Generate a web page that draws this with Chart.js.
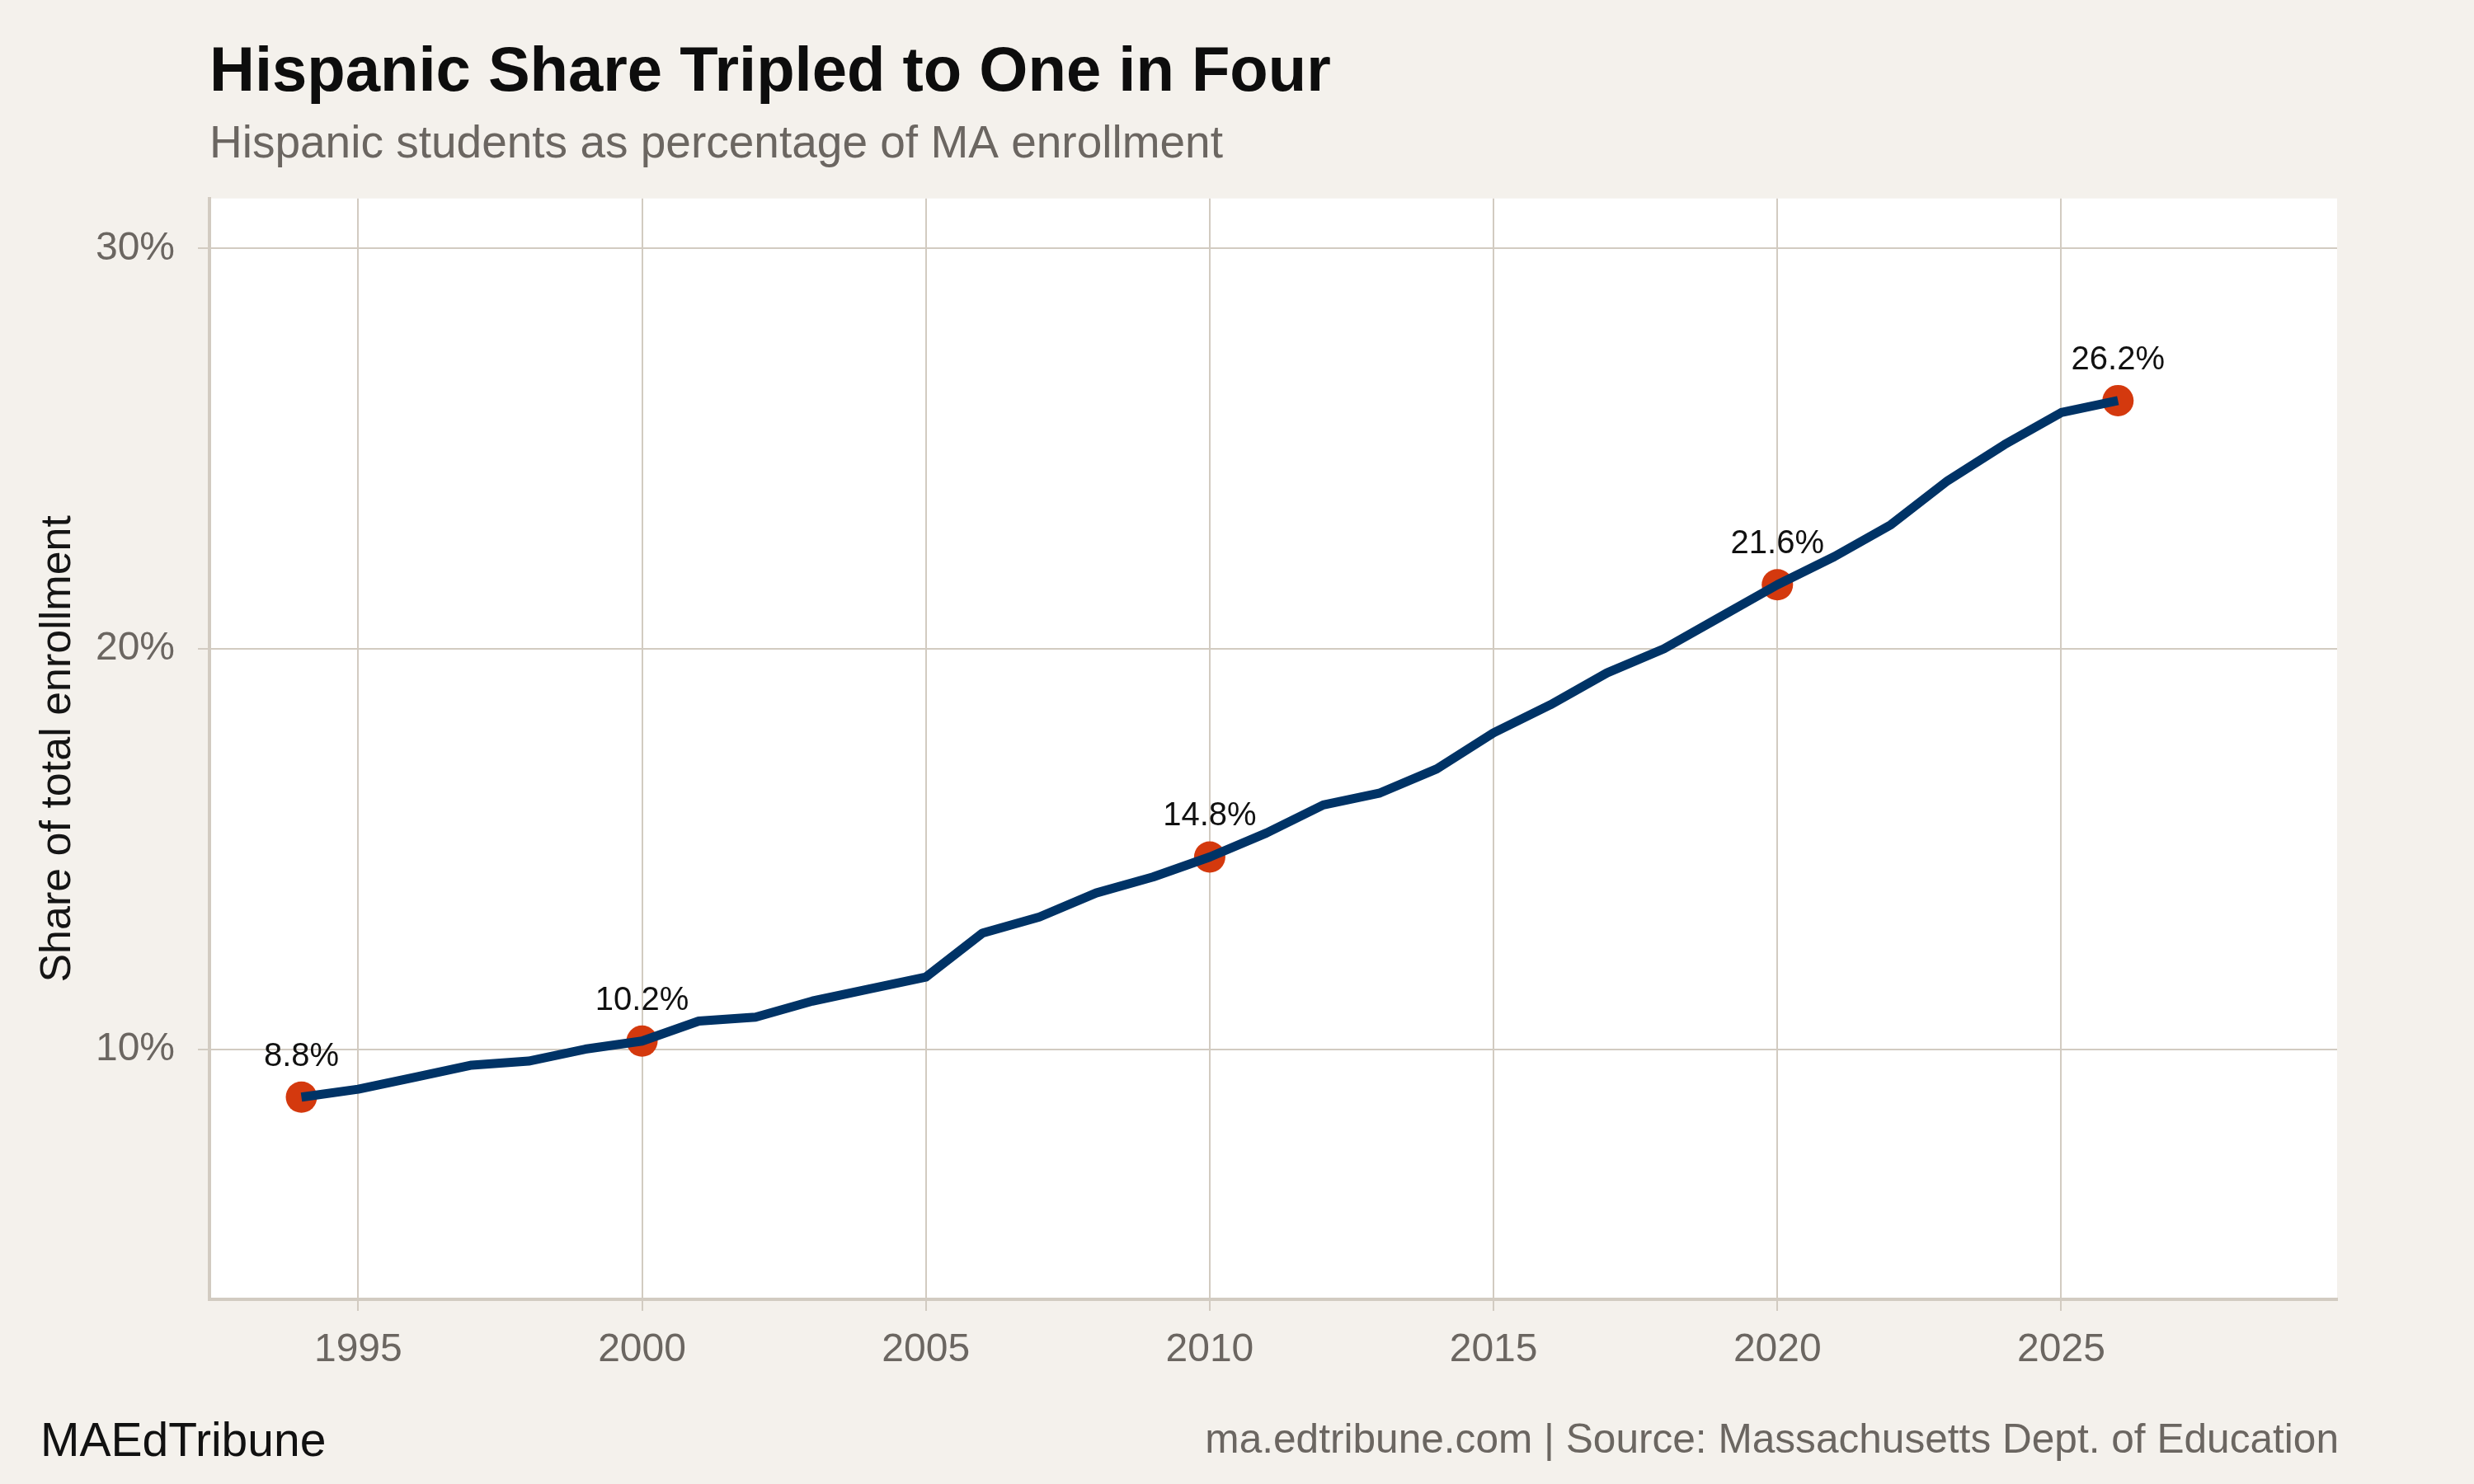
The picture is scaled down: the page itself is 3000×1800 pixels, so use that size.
<!DOCTYPE html>
<html>
<head>
<meta charset="utf-8">
<script src="https://cdn.jsdelivr.net/npm/chart.js@4.4.1/dist/chart.umd.min.js"></script>
<style>
  html, body { margin: 0; padding: 0; background: #F4F1EC; }
  #wrap { width: 3000px; height: 1800px; }
  canvas { display: block; }
</style>
</head>
<body>
<div id="wrap"><canvas id="c" width="3000" height="1800"></canvas></div>
<script>
// ---- Data ----
const years = [1994, 1995, 1996, 1997, 1998, 1999, 2000, 2001, 2002, 2003, 2004,
               2005, 2006, 2007, 2008, 2009, 2010, 2011, 2012, 2013, 2014, 2015,
               2016, 2017, 2018, 2019, 2020, 2021, 2022, 2023, 2024, 2025, 2026];
const hispanicShare = [8.8, 9.0, 9.3, 9.6, 9.7, 10.0, 10.2, 10.7, 10.8, 11.2, 11.5,
                       11.8, 12.9, 13.3, 13.9, 14.3, 14.8, 15.4, 16.1, 16.4, 17.0, 17.9,
                       18.6, 19.4, 20.0, 20.8, 21.6, 22.3, 23.1, 24.2, 25.1, 25.9, 26.2];
const labeledYears = [1994, 2000, 2010, 2020, 2026];
const xTickValues = [1995, 2000, 2005, 2010, 2015, 2020, 2025];
const yTickValues = [10, 20, 30];

const titleText = 'Hispanic Share Tripled to One in Four';
const subtitleText = 'Hispanic students as percentage of MA enrollment';
const yAxisTitle = 'Share of total enrollment';
const brandText = 'MAEdTribune';
const sourceText = 'ma.edtribune.com | Source: Massachusetts Dept. of Education';

// ---- Build datasets ----
const linePoints = years.map((yr, i) => ({ x: yr, y: hispanicShare[i] }));
const highlightPoints = labeledYears.map(yr => ({ x: yr, y: hispanicShare[years.indexOf(yr)] }));

const FONT = "'Liberation Sans', Arial, Helvetica, sans-serif";
Chart.defaults.font.family = FONT;

const GRID = '#D2CBC1';
const BG = '#F4F1EC';
const GREY_TEXT = '#6B6661';

const decor = {
  id: 'decor',
  beforeDraw(chart) {
    const { ctx, chartArea: a, width, height } = chart;
    ctx.save();
    ctx.fillStyle = BG;
    ctx.fillRect(0, 0, width, height);
    ctx.fillStyle = '#FFFFFF';
    ctx.fillRect(a.left, a.top, a.right - a.left, a.bottom - a.top);
    ctx.restore();
  },
  afterDatasetsDraw(chart) {
    const { ctx } = chart;
    const meta = chart.getDatasetMeta(1);
    ctx.save();
    ctx.font = '40px ' + FONT;
    ctx.fillStyle = '#111111';
    ctx.textAlign = 'center';
    ctx.textBaseline = 'middle';
    meta.data.forEach((el, i) => {
      const v = highlightPoints[i].y;
      ctx.fillText(v.toFixed(1) + '%', el.x, el.y - 49);
    });
    ctx.restore();
  },
  afterDraw(chart) {
    const { ctx, chartArea: a } = chart;
    ctx.save();
    ctx.textBaseline = 'alphabetic';
    ctx.fillStyle = '#111111';
    ctx.textAlign = 'left';
    ctx.font = '57px ' + FONT;
    ctx.fillText(brandText, 49, 1766);
    ctx.fillStyle = GREY_TEXT;
    ctx.textAlign = 'right';
    ctx.font = '49.6px ' + FONT;
    ctx.fillText(sourceText, a.right + 2, 1762);
    ctx.restore();
  }
};

new Chart(document.getElementById('c'), {
  type: 'line',
  data: {
    datasets: [
      {
        data: linePoints,
        borderColor: '#003366',
        borderWidth: 11,
        borderJoinStyle: 'round',
        pointRadius: 0,
        tension: 0,
        fill: false
      },
      {
        data: highlightPoints,
        showLine: false,
        pointRadius: 19,
        pointHoverRadius: 19,
        pointBackgroundColor: '#D4390E',
        pointBorderWidth: 0,
        borderColor: '#D4390E'
      }
    ]
  },
  options: {
    responsive: false,
    animation: false,
    devicePixelRatio: 1,
    events: [],
    layout: { padding: { left: 0, right: 166, top: 0, bottom: 0 } },
    plugins: {
      legend: { display: false },
      tooltip: { enabled: false },
      title: {
        display: true,
        text: titleText,
        align: 'start',
        fullSize: false,
        color: '#0D0D0D',
        font: { size: 76, weight: 'bold', family: FONT, lineHeight: 1.2 },
        padding: { top: 43, bottom: 0 }
      },
      subtitle: {
        display: true,
        text: subtitleText,
        align: 'start',
        fullSize: false,
        color: GREY_TEXT,
        font: { size: 55, weight: 'normal', family: FONT, lineHeight: 1.2 },
        padding: { top: 9, bottom: 31.5 }
      }
    },
    scales: {
      x: {
        type: 'linear',
        min: 1992.38,
        max: 2029.86,
        afterBuildTicks: s => { s.ticks = xTickValues.map(v => ({ value: v })); },
        afterFit: s => { s.height = 224; },
        ticks: {
          callback: v => String(v),
          color: GREY_TEXT,
          font: { size: 48, family: FONT },
          padding: 19,
          maxRotation: 0,
          autoSkip: false
        },
        grid: {
          color: GRID,
          lineWidth: 2,
          drawTicks: true,
          tickLength: 14,
          tickColor: GRID,
          tickWidth: 2
        },
        border: { display: true, color: GRID, width: 4 }
      },
      y: {
        type: 'linear',
        min: 3.75,
        max: 31.25,
        afterBuildTicks: s => { s.ticks = yTickValues.map(v => ({ value: v })); },
        afterFit: s => { s.width = 254; },
        ticks: {
          callback: v => v + '%',
          color: GREY_TEXT,
          font: { size: 48, family: FONT },
          padding: 28
        },
        grid: {
          color: GRID,
          lineWidth: 2,
          drawTicks: true,
          tickLength: 14,
          tickColor: GRID,
          tickWidth: 2
        },
        border: { display: true, color: GRID, width: 4 },
        title: {
          display: true,
          text: yAxisTitle,
          color: '#151515',
          font: { size: 52, family: FONT, lineHeight: 1.2 },
          padding: { top: 39, bottom: 0 }
        }
      }
    }
  },
  plugins: [decor]
});
</script>
</body>
</html>
